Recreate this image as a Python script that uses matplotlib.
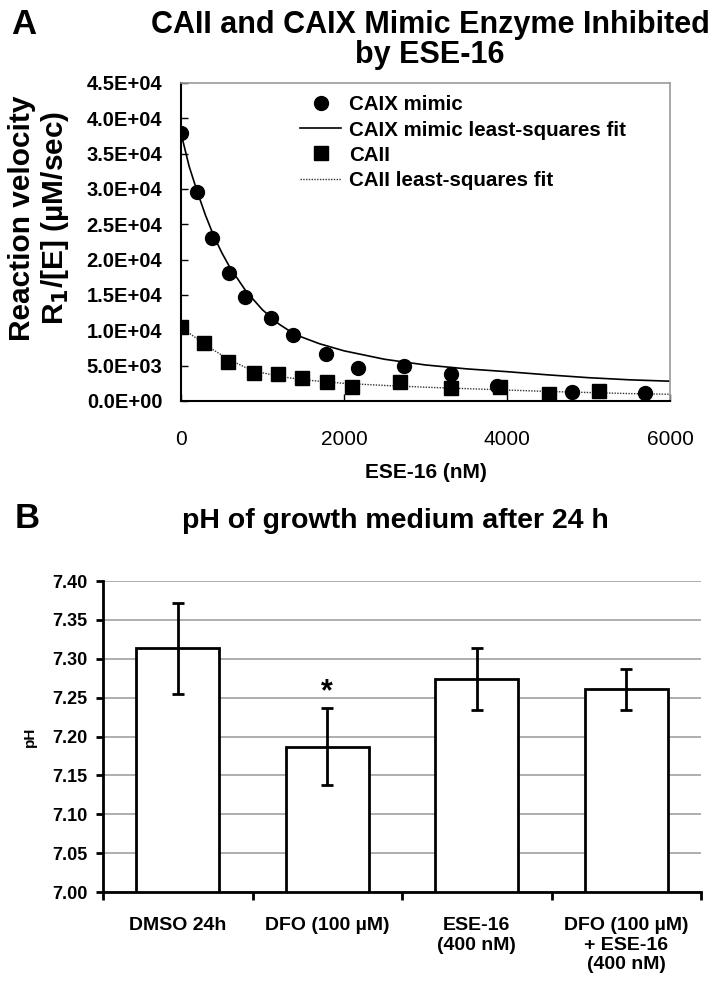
import matplotlib
matplotlib.use("Agg")
import matplotlib.pyplot as plt
from matplotlib import font_manager
from matplotlib.lines import Line2D

names = {f.name for f in font_manager.fontManager.ttflist}
NARROW = 'Liberation Sans Narrow' if 'Liberation Sans Narrow' in names else 'Liberation Sans'
WIDE = 'Liberation Sans'
plt.rcParams['font.family'] = [WIDE, 'DejaVu Sans']

# ---------------- Panel A data ----------------
caix_x = [0, 200, 380, 590, 790, 1100, 1370, 1780, 2170, 2740, 3310, 3880, 4800, 5690]
caix_y = [37900, 29600, 23100, 18100, 14700, 11700, 9300, 6700, 4700, 5000, 3800, 2100, 1300, 1100]
caii_x = [0, 285, 580, 890, 1190, 1490, 1790, 2100, 2690, 3310, 3910, 4520, 5130]
caii_y = [10500, 8200, 5500, 4000, 3800, 3300, 2700, 2000, 2700, 1800, 2000, 1000, 1400]
caix_fit_x = [0, 100, 200, 300, 400, 500, 600, 800, 1000, 1200, 1400, 1700, 2000, 2500,
              3000, 3500, 4000, 4500, 5000, 5500, 6000]
caix_fit_y = [37900, 33200, 29600, 26300, 23400, 21000, 18900, 15500, 12900, 10900, 9400,
              8100, 7100, 5900, 5100, 4550, 4150, 3700, 3300, 3000, 2800]
caii_fit_x = [0, 100, 200, 300, 400, 600, 800, 1000, 1200, 1500, 2000, 2500, 3000, 3500,
              4000, 4500, 5000, 5500, 6000]
caii_fit_y = [10500, 9600, 8800, 8000, 7200, 5800, 4700, 4000, 3500, 3000, 2500, 2200, 1950,
              1750, 1550, 1350, 1200, 1050, 950]
a_yticks = [0, 5000, 10000, 15000, 20000, 25000, 30000, 35000, 40000, 45000]
a_ytick_labels = ['0.0E+00', '5.0E+03', '1.0E+04', '1.5E+04', '2.0E+04', '2.5E+04',
                  '3.0E+04', '3.5E+04', '4.0E+04', '4.5E+04']
a_xticks = [0, 2000, 4000, 6000]

# ---------------- Panel B data ----------------
b_categories = ['DMSO 24h', 'DFO (100 µM)', 'ESE-16\n(400 nM)', 'DFO (100 µM)\n+ ESE-16\n(400 nM)']
b_values = [7.314, 7.187, 7.274, 7.261]
b_err_low = [7.255, 7.137, 7.234, 7.234]
b_err_high = [7.372, 7.237, 7.314, 7.287]
b_yticks = [7.00, 7.05, 7.10, 7.15, 7.20, 7.25, 7.30, 7.35, 7.40]

fig = plt.figure(figsize=(7.2, 9.88), dpi=100)

# ================= Panel A =================
axA = fig.add_axes([181/720, 1-401/988, 489/720, 318/988])
axA.plot(caix_fit_x, caix_fit_y, color='black', lw=1.2, zorder=2)
axA.plot(caii_fit_x, caii_fit_y, color='#333333', lw=1.0, ls=(0, (1, 1)), zorder=2)
axA.plot(caix_x, caix_y, 'o', color='black', ms=10, zorder=3)
axA.plot(caii_x, caii_y, 's', color='black', ms=10, zorder=3)
axA.set_xlim(0, 6000)
axA.set_ylim(0, 45000)
axA.set_yticks(a_yticks)
axA.set_yticklabels(a_ytick_labels, fontsize=14.5, fontweight='bold', family=WIDE)
axA.set_xticks(a_xticks)
axA.set_xticklabels([str(v) for v in a_xticks], fontsize=15, family=NARROW)
axA.tick_params(axis='y', direction='in', length=5, width=1, pad=13.5)
axA.tick_params(axis='x', direction='in', length=5, width=1, pad=21)
for s in ['left', 'bottom']:
    axA.spines[s].set_color('black')
    axA.spines[s].set_linewidth(1.5)
for s in ['top', 'right']:
    axA.spines[s].set_color('#9a9a9a')
    axA.spines[s].set_linewidth(1.2)
axA.set_xlabel('ESE-16 (nM)', fontsize=15, fontweight='bold', family=NARROW, labelpad=10)

fig.text(22/720, 1-218/988, 'Reaction velocity', rotation=90, ha='center', va='center',
         fontsize=21.5, fontweight='bold', family=WIDE)
fig.text(55/720, 1-218/988, r'R$_\mathbf{1}$/[E] (µM/sec)', rotation=90, ha='center', va='center',
         fontsize=21.5, fontweight='bold', family=WIDE)
fig.text(430/720, 1-25/988, 'CAII and CAIX Mimic Enzyme Inhibited', ha='center', va='center',
         fontsize=22, fontweight='bold', family=NARROW)
fig.text(430/720, 1-55/988, 'by ESE-16', ha='center', va='center',
         fontsize=22, fontweight='bold', family=NARROW)
fig.text(24/720, 1-24/988, 'A', ha='center', va='center', fontsize=25, fontweight='bold', family=NARROW)

handles = [
    Line2D([], [], marker='o', ls='none', color='black', ms=10),
    Line2D([], [], color='black', lw=1.2),
    Line2D([], [], marker='s', ls='none', color='black', ms=10),
    Line2D([], [], color='#333333', lw=1.0, ls=(0, (1, 1))),
]
labels = ['CAIX mimic', 'CAIX mimic least-squares fit', 'CAII', 'CAII least-squares fit']
axA.legend(handles, labels, loc='upper left', bbox_to_anchor=(107/489, 1.0), frameon=False,
           prop={'family': WIDE, 'weight': 'bold', 'size': 14.8}, handlelength=2.0,
           handletextpad=0.35, labelspacing=0.3, borderaxespad=0.2)

# ================= Panel B =================
axB = fig.add_axes([103/720, 1-892/988, 598/720, 311/988])
xpos = list(range(len(b_categories)))
yerr = [[v - lo for v, lo in zip(b_values, b_err_low)], [hi - v for v, hi in zip(b_values, b_err_high)]]
axB.bar(xpos, [v - 7.0 for v in b_values], bottom=7.0, width=0.555, color='white',
        edgecolor='black', linewidth=2, zorder=3)
axB.errorbar(xpos, b_values, yerr=yerr, fmt='none', ecolor='black', elinewidth=2,
             capsize=4, capthick=2, zorder=4)
axB.set_xlim(-0.5, len(b_categories) - 0.5)
axB.set_ylim(7.0, 7.40)
axB.set_yticks(b_yticks)
axB.set_yticklabels([f'{v:.2f}' for v in b_yticks], fontsize=13, fontweight='bold', family=NARROW)
axB.yaxis.grid(True, color='#a8a8a8', lw=1.3, zorder=0)
axB.set_axisbelow(True)
axB.set_xticks([i - 0.5 for i in range(len(b_categories) + 1)])
axB.set_xticklabels([''] * (len(b_categories) + 1))
axB.set_xticks(xpos, minor=True)
axB.set_xticklabels(b_categories, minor=True, fontsize=14, fontweight='bold', family=NARROW,
                    linespacing=1.2, va='top')
axB.tick_params(axis='x', which='minor', length=0, pad=18)
axB.tick_params(axis='x', which='major', direction='out', length=6, width=2)
axB.tick_params(axis='y', direction='out', length=5, width=2, pad=6)
for s in ['top', 'right']:
    axB.spines[s].set_visible(False)
for s in ['left', 'bottom']:
    axB.spines[s].set_linewidth(2)
    axB.spines[s].set_color('black')
axB.set_ylabel('pH', fontsize=11, fontweight='bold', family=WIDE, labelpad=11)
axB.text(1, 7.246, '*', ha='center', va='baseline', fontsize=22, fontweight='bold', family=WIDE)

fig.text(395/720, 1-521/988, 'pH of growth medium after 24 h', ha='center', va='center',
         fontsize=20.5, fontweight='bold', family=NARROW)
fig.text(27/720, 1-518/988, 'B', ha='center', va='center', fontsize=25, fontweight='bold', family=NARROW)

fig.savefig('out.png', dpi=100)
